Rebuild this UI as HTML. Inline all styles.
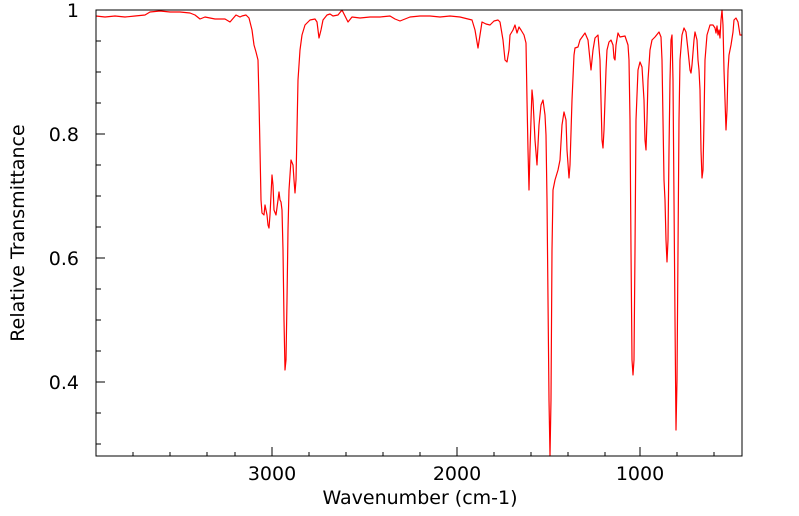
<!DOCTYPE html>
<html><head><meta charset="utf-8"><style>
html,body{margin:0;padding:0;background:#fff;}
svg{display:block;font-family:"DejaVu Sans","Liberation Sans",sans-serif;}
</style></head><body>
<svg width="799" height="516" viewBox="0 0 799 516">
<rect width="799" height="516" fill="#fff"/>
<g stroke="#000" stroke-width="1">
<line x1="96" y1="456" x2="96" y2="450"/>
<line x1="133" y1="456" x2="133" y2="452"/><line x1="170" y1="456" x2="170" y2="452"/><line x1="207" y1="456" x2="207" y2="452"/><line x1="235" y1="456" x2="235" y2="452"/>
<line x1="272" y1="456" x2="272" y2="447"/>
<line x1="309" y1="456" x2="309" y2="452"/><line x1="346" y1="456" x2="346" y2="452"/><line x1="383" y1="456" x2="383" y2="452"/><line x1="420" y1="456" x2="420" y2="452"/>
<line x1="457" y1="456" x2="457" y2="447"/>
<line x1="494" y1="456" x2="494" y2="452"/><line x1="531" y1="456" x2="531" y2="452"/><line x1="568" y1="456" x2="568" y2="452"/><line x1="605" y1="456" x2="605" y2="452"/>
<line x1="640" y1="456" x2="640" y2="447"/>
<line x1="677" y1="456" x2="677" y2="452"/><line x1="714" y1="456" x2="714" y2="452"/>
<line x1="96" y1="10" x2="105" y2="10"/><line x1="96" y1="134" x2="105" y2="134"/><line x1="96" y1="258" x2="105" y2="258"/><line x1="96" y1="382" x2="105" y2="382"/>
<line x1="96" y1="41" x2="101" y2="41"/><line x1="96" y1="72" x2="101" y2="72"/><line x1="96" y1="103" x2="101" y2="103"/>
<line x1="96" y1="165" x2="101" y2="165"/><line x1="96" y1="196" x2="101" y2="196"/><line x1="96" y1="227" x2="101" y2="227"/>
<line x1="96" y1="289" x2="101" y2="289"/><line x1="96" y1="320" x2="101" y2="320"/><line x1="96" y1="351" x2="101" y2="351"/>
<line x1="96" y1="413" x2="101" y2="413"/><line x1="96" y1="444" x2="101" y2="444"/>
</g>
<polyline fill="none" stroke="#f00" stroke-width="1.2" stroke-linejoin="round" points="
96,16 105,17 115,16 125,17 135,16 145,15 150,12 160,11 170,12 180,12 190,13 195,15 200,19 205,17 215,19 225,19 230,22 236,15 240,17 242,16 246,15 249,18 252,30 254,45 256,52 258,60 259,100 260,150 261,200 262,213 264,215 265,205 267,215 268,225 269,228 270,215 272,175 273,185 274,210 276,215 278,200 279,192 280,200 281,202 282,210 283,250 284,320 285,370 286,360 287,300 288,230 289,190 291,160 293,165 294,180 295,193 296,180 297,130 298,80 300,50 302,35 305,25 310,20 315,19 317,22 319,38 321,30 323,20 327,15 330,14 333,16 338,15 342,10 345,16 348,22 352,17 360,18 370,17 380,17 390,16 395,19 400,21 410,17 420,16 430,16 440,17 450,16 460,17 468,19 472,20 475,30 478,48 480,35 482,22 486,24 490,25 494,21 498,20 500,22 503,40 505,60 507,62 509,50 510,35 513,30 515,25 517,33 519,27 521,30 524,35 526,43 527,100 528,150 529,190 530,150 532,90 533,100 535,140 537,165 539,125 541,105 543,100 545,115 546,135 547,200 548,300 549,400 550,456 551,400 552,250 553,190 555,180 558,170 560,160 562,125 564,112 566,120 567,150 569,178 570,165 572,100 574,55 575,48 578,47 580,40 585,33 588,40 590,60 591,70 593,50 595,38 598,35 600,60 602,140 603,148 604,130 606,70 607,50 609,42 611,40 613,45 614,58 615,60 616,45 618,33 620,37 625,36 628,45 629,60 630,120 631,250 632,360 633,375 634,360 635,250 636,120 638,70 640,62 642,67 644,100 645,140 646,150 647,120 648,80 650,50 652,40 655,37 659,32 661,37 662,60 663,120 664,180 665,200 666,240 667,262 668,240 669,150 670,80 671,40 672,35 673,80 674,200 675,320 676,430 677,380 678,250 679,120 680,60 682,35 684,28 686,32 688,50 690,70 691,73 692,65 694,40 695,32 697,40 698,60 699,70 700,90 701,150 702,178 703,170 704,120 705,60 707,35 710,25 713,25 715,28 716,33 717,26 718,35 719,30 720,38 721,20 722,10 723,25 724,70 726,130 727,110 728,70 729,55 731,45 733,32 734,20 736,18 738,22 740,35 742,35"/>
<rect x="96" y="10" width="646" height="446" fill="none" stroke="#000" stroke-width="1"/>
<g font-size="19" fill="#000">
<text x="79" y="17" text-anchor="end">1</text>
<text x="79" y="141" text-anchor="end">0.8</text>
<text x="79" y="265" text-anchor="end">0.6</text>
<text x="79" y="389" text-anchor="end">0.4</text>
<text x="272" y="480" text-anchor="middle">3000</text>
<text x="457" y="480" text-anchor="middle">2000</text>
<text x="640" y="480" text-anchor="middle">1000</text>
<text x="420" y="504" text-anchor="middle">Wavenumber (cm-1)</text>
<text transform="translate(24,233) rotate(-90)" text-anchor="middle">Relative Transmittance</text>
</g>
</svg>
</body></html>
